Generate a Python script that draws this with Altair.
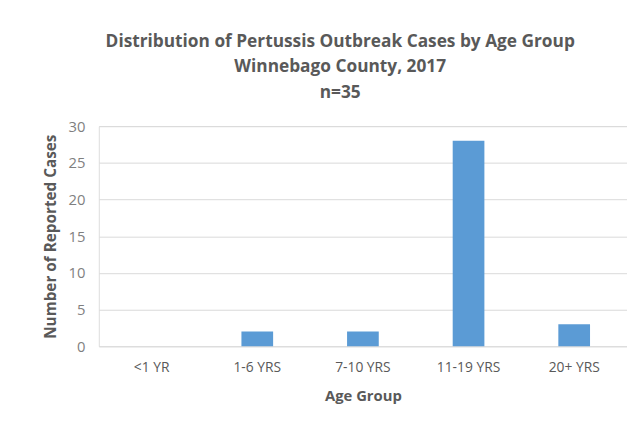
import altair as alt
import pandas as pd

categories = ["<1 YR", "1-6 YRS", "7-10 YRS", "11-19 YRS", "20+ YRS"]
cases = [0, 2, 2, 28, 3]
title_lines = ["Distribution of Pertussis Outbreak Cases by Age Group",
               "Winnebago County, 2017", "n=35"]

df = pd.DataFrame({"age": categories, "cases": cases})

FONT = "Open Sans"

chart = alt.Chart(df).mark_bar(color="#5b9bd5").encode(
    x=alt.X("age:N", sort=categories,
            scale=alt.Scale(paddingInner=0.7, paddingOuter=0.35),
            axis=alt.Axis(title="Age Group", labelAngle=0, domain=False, ticks=False,
                          labelPadding=15, labelFontSize=14, labelColor="#595959",
                          titleFontSize=15, titleColor="#595959", titleFontWeight="bold",
                          titlePadding=14, labelFont=FONT, titleFont=FONT)),
    y=alt.Y("cases:Q", scale=alt.Scale(domain=[0, 30]),
            axis=alt.Axis(title="Number of Reported Cases", values=[0, 5, 10, 15, 20, 25, 30],
                          domain=False, ticks=False, labelPadding=14, labelFontSize=15,
                          labelColor="#7f7f7f", titleFontSize=15.5, titleColor="#595959",
                          titleFontWeight="bold", titlePadding=10, gridColor="#d9d9d9",
                          labelFont=FONT, titleFont=FONT)),
).properties(
    width=535, height=223,
    title=alt.TitleParams(text=title_lines, anchor="middle", dx=-23, fontSize=17.5,
                          font=FONT, fontWeight="bold", color="#595959",
                          lineHeight=26, offset=18),
    autosize=alt.AutoSizeParams(type="none"),
    padding={"left": 92, "top": 117, "right": 0, "bottom": 70},
).configure_view(stroke=None).configure(background="white")

chart.save("out.html", embed_options={"renderer": "svg", "actions": False})
